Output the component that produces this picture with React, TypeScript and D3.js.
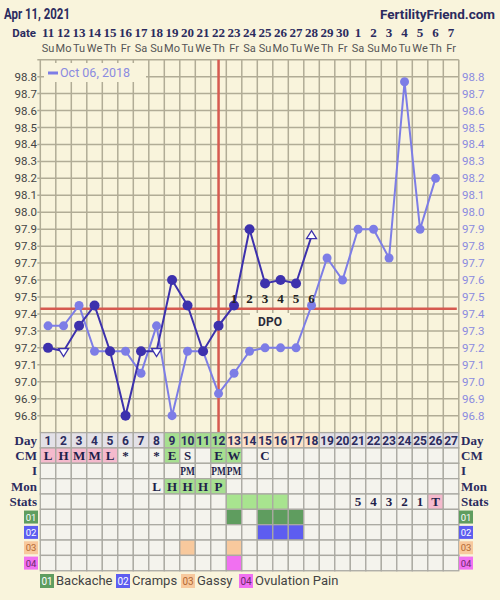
import React from 'react';
import * as d3 from 'd3';

const headerDate = 'Apr 11, 2021';
const siteName = 'FertilityFriend.com';
const dates = ['11','12','13','14','15','16','17','18','19','20','21','22','23','24','25','26','27','28','29','30','1','2','3','4','5','6','7'];
const weekdays = ['Su','Mo','Tu','We','Th','Fr','Sa','Su','Mo','Tu','We','Th','Fr','Sa','Su','Mo','Tu','We','Th','Fr','Sa','Su','Mo','Tu','We','Th','Fr'];
const cycleDays = [1,2,3,4,5,6,7,8,9,10,11,12,13,14,15,16,17,18,19,20,21,22,23,24,25,26,27];

const currentTemps = [97.2, 97.18, 97.33, 97.45, 97.18, 96.8, 97.18, 97.18, 97.6, 97.45, 97.18, 97.33, 97.45, 97.9, 97.58, 97.6, 97.58, 97.86];
const currentMarkers = ['c','down','c','c','c','c','c','down','c','c','c','c','c','c','c','c','c','up'];
const compareTemps = [97.33, 97.33, 97.45, 97.18, 97.18, 97.18, 97.05, 97.33, 96.8, 97.18, 97.18, 96.93, 97.05, 97.18, 97.2, 97.2, 97.2, 97.45, 97.73, 97.6, 97.9, 97.9, 97.73, 98.77, 97.9, 98.2];
const compareLabel = 'Oct 06, 2018';
const coverline = 97.43;
const ovulationDay = 12;
const dpoLabels = ['1','2','3','4','5','6'];
const yTicks = [96.8, 96.9, 97.0, 97.1, 97.2, 97.3, 97.4, 97.5, 97.6, 97.7, 97.8, 97.9, 98.0, 98.1, 98.2, 98.3, 98.4, 98.5, 98.6, 98.7, 98.8];

const dayPhase = ['g','g','g','g','g','g','g','g','f','f','f','f','l','l','l','l','l','l','g','g','g','g','g','g','g','g','g'];
const cmText = ['L','H','M','M','L','*','','*','E','S','','E','W','','C','','','','','','','','','','','',''];
const cmFill = ['p','p','p','p','p','','','','f','','','f','f','','','','','','','','','','','','','',''];
const iText = ['','','','','','','','','','PM','','PM','PM','','','','','','','','','','','','','',''];
const monText = ['','','','','','','','L','H','H','H','P','','','','','','','','','','','','','','',''];
const monFill = ['','','','','','','','','f','f','f','f','','','','','','','','','','','','','','',''];
const statsText = ['','','','','','','','','','','','','','','','','','','','','5','4','3','2','1','T',''];
const statsFill = ['','','','','','','','','','','','','s','s','s','s','','','','','','','','','','p',''];
const symptomNames = ['Backache','Cramps','Gassy','Ovulation Pain'];
const symptomCodes = ['01','02','03','04'];
const symptomDays = [[13,15,16,17],[15,16,17],[10,13],[13]];
const rowLabels = ['Day','CM','I','Mon','Stats'];

const BG = '#f9f4dc';
const GRID = '#b1ac96';
const CUR = '#3d31ad';
const CMP = '#7d7de6';
const RED = '#d65a50';
const NAVY = '#2b2b5e';
const fills: Record<string,string> = { g:'#e3e1e7', f:'#a6df90', l:'#fde2c9', p:'#f5bacd', s:'#a8e48f', '':'#f4f3ed' };
const symFill = ['#5f9d5f','#5d5df0','#f8c99d','#f170f1'];
const symText = ['#ffffff','#ffffff','#b46a34','#6b2a6b'];

const SANS = 'Roboto, sans-serif';
const SLAB = "'Liberation Serif', serif";

export default function App() {
  const x = d3.scaleBand<number>().domain(cycleDays).range([40.3, 458.8]).padding(0);
  const bw = x.bandwidth();
  const cx = (d: number) => (x(d) as number) + bw / 2;
  const y = d3.scaleLinear().domain([96.7, 98.9]).range([432.6, 59.7]);
  const plotTop = y(98.9), plotBottom = y(96.7);
  const rowTop = plotBottom;
  const rowH = 15.35;
  const left = x(1) as number, right = (x(27) as number) + bw;

  const curPts = currentTemps.map((t, i) => [cx(cycleDays[i]), y(t)] as [number, number]);
  const cmpPts = compareTemps.map((t, i) => [cx(cycleDays[i]), y(t)] as [number, number]);
  const line = d3.line();

  const tri = (px: number, py: number, dir: string) => {
    const w = 5, h = 8;
    if (dir === 'down') return `M${px - w},${py - h / 3}L${px + w},${py - h / 3}L${px},${py + 2 * h / 3}Z`;
    return `M${px - w},${py + h / 3}L${px + w},${py + h / 3}L${px},${py - 2 * h / 3}Z`;
  };

  const rows: { text: string[]; fill: string[] }[] = [
    { text: dates.map((_, i) => String(cycleDays[i])), fill: dayPhase },
    { text: cmText, fill: cmFill },
    { text: iText, fill: cmText.map(() => '') },
    { text: monText, fill: monFill },
    { text: statsText, fill: statsFill },
  ];

  return (
    <svg width={500} height={600} style={{ position: 'absolute', left: 0, top: 0, background: BG }}>
      <rect x={0} y={0} width={500} height={600} fill={BG} />
      <text x={4} y={19} fontFamily={SANS} fontWeight={700} fontSize={14} fill={NAVY} textLength={66} lengthAdjust="spacingAndGlyphs">{headerDate}</text>
      <text x={495} y={19} textAnchor="end" fontFamily={SANS} fontWeight={700} fontSize={13.5} fill={NAVY}>{siteName}</text>
      <text x={36} y={37} textAnchor="end" fontFamily={SANS} fontWeight={700} fontSize={11.5} fill={NAVY}>Date</text>
      {dates.map((d, i) => (
        <text key={'d' + i} x={cx(cycleDays[i])} y={36.5} textAnchor="middle" fontFamily={SLAB} fontWeight={700} fontSize={13} fill={NAVY}>{d}</text>
      ))}
      {weekdays.map((d, i) => (
        <text key={'w' + i} x={cx(cycleDays[i])} y={51.5} textAnchor="middle" fontFamily={SANS} fontSize={11} fill="#555">{d}</text>
      ))}

      {/* grid */}
      {cycleDays.concat([28]).map((d, i) => {
        const gx = i < 27 ? (x(d) as number) : right;
        return <line key={'vg' + i} x1={gx} x2={gx} y1={plotTop} y2={plotBottom} stroke={GRID} strokeWidth={1.5} />;
      })}
      {yTicks.concat([98.9]).map((t, i) => (
        <line key={'hg' + i} x1={left - 3} x2={right} y1={y(t)} y2={y(t)} stroke={GRID} strokeWidth={1.5} />
      ))}
      {yTicks.map((t, i) => (
        <text key={'yl' + i} x={37} y={y(t) + 4} textAnchor="end" fontFamily={SANS} fontSize={11.5} fill="#444">{t.toFixed(1)}</text>
      ))}
      {yTicks.map((t, i) => (
        <text key={'yr' + i} x={462} y={y(t) + 4} fontFamily={SANS} fontSize={11.5} fill="#8b8be0">{t.toFixed(1)}</text>
      ))}

      {/* legend box */}
      <rect x={44} y={63} width={102} height={19} fill={BG} />
      <line x1={48} x2={58} y1={73} y2={73} stroke={CMP} strokeWidth={3} />
      <text x={60} y={76.5} fontFamily={SANS} fontSize={12.5} fill="#8b8be0">{compareLabel}</text>

      {/* coverline and ovulation */}
      <line x1={left} x2={right - 2} y1={y(coverline)} y2={y(coverline)} stroke={RED} strokeWidth={2.5} />
      <line x1={cx(ovulationDay)} x2={cx(ovulationDay)} y1={plotTop} y2={plotBottom} stroke={RED} strokeWidth={2.5} />

      {/* DPO box */}
      <rect x={250} y={313} width={40} height={16} fill={BG} />
      <text x={270} y={325.5} textAnchor="middle" fontFamily={SANS} fontWeight={700} fontSize={12} fill="#2a2a3a">DPO</text>

      {/* comparison series */}
      <path d={line(cmpPts) || ''} fill="none" stroke={CMP} strokeWidth={2} />
      {cmpPts.map((p, i) => <circle key={'cp' + i} cx={p[0]} cy={p[1]} r={4.5} fill={CMP} />)}

      {/* current series */}
      <path d={line(curPts) || ''} fill="none" stroke={CUR} strokeWidth={2} />
      {curPts.map((p, i) => currentMarkers[i] === 'c'
        ? <circle key={'cc' + i} cx={p[0]} cy={p[1]} r={5} fill={CUR} />
        : <path key={'ct' + i} d={tri(p[0], p[1], currentMarkers[i])} fill="#fff" stroke={CUR} strokeWidth={1.3} />)}

      {/* DPO labels on top */}
      {dpoLabels.map((l, i) => (
        <text key={'dpo' + i} x={cx(ovulationDay + 1 + i)} y={303} textAnchor="middle" fontFamily={SLAB} fontWeight={700} fontSize={13} fill="#222">{l}</text>
      ))}

      {/* table */}
      {rows.map((r, ri) => cycleDays.map((d, ci) => (
        <rect key={`r${ri}-${ci}`} x={x(d)} y={rowTop + ri * rowH} width={bw} height={rowH} fill={fills[r.fill[ci]] || fills['']} stroke="#aaa9a2" strokeWidth={1.3} />
      )))}
      {symptomDays.map((days, si) => cycleDays.map((d, ci) => (
        <rect key={`s${si}-${ci}`} x={x(d)} y={rowTop + (5 + si) * rowH} width={bw} height={rowH} fill={days.includes(d) ? symFill[si] : fills['']} stroke="#aaa9a2" strokeWidth={1.3} />
      )))}
      {rows.map((r, ri) => r.text.map((t, ci) => {
        if (!t) return null;
        const tx = cx(cycleDays[ci]);
        const ty = rowTop + ri * rowH + rowH / 2 + 4.5;
        if (ri === 2 && t.length > 1) {
          return (
            <g key={`t${ri}-${ci}`} transform={`translate(${tx},${ty}) scale(0.72,1)`}>
              <text x={0} y={0} textAnchor="middle" fontFamily={SLAB} fontWeight={700} fontSize={13} fill="#1f1f4a">{t}</text>
            </g>
          );
        }
        return (
          <text key={`t${ri}-${ci}`} x={tx} y={ty} textAnchor="middle"
            fontFamily={ri === 0 ? SANS : SLAB} fontWeight={700} fontSize={ri === 0 ? 12 : 13} fill={ri === 0 ? NAVY : '#1f1f4a'}>{t}</text>
        );
      }))}
      {rowLabels.map((l, ri) => (
        <g key={'rl' + ri}>
          <text x={37} y={rowTop + ri * rowH + rowH / 2 + 4.5} textAnchor="end" fontFamily={SLAB} fontWeight={700} fontSize={13} fill={NAVY}>{l}</text>
          <text x={461} y={rowTop + ri * rowH + rowH / 2 + 4.5} fontFamily={SLAB} fontWeight={700} fontSize={13} fill={NAVY}>{l}</text>
        </g>
      ))}
      {symptomCodes.map((c, si) => {
        const yy = rowTop + (5 + si) * rowH + 1.2;
        return (
          <g key={'sl' + si}>
            <rect x={24} y={yy} width={14} height={13} fill={symFill[si]} />
            <text x={31} y={yy + 10} textAnchor="middle" fontFamily={SANS} fontSize={9.5} fill={symText[si]}>{c}</text>
            <rect x={459} y={yy} width={14} height={13} fill={symFill[si]} />
            <text x={466} y={yy + 10} textAnchor="middle" fontFamily={SANS} fontSize={9.5} fill={symText[si]}>{c}</text>
          </g>
        );
      })}

      {/* bottom legend */}
      {symptomNames.map((n, si) => {
        const lx = [40, 116, 181, 239][si];
        return (
          <g key={'lg' + si}>
            <rect x={lx} y={574} width={14} height={14} fill={symFill[si]} />
            <text x={lx + 7} y={585} textAnchor="middle" fontFamily={SANS} fontSize={10} fill={symText[si]}>{symptomCodes[si]}</text>
            <text x={lx + 16} y={585} fontFamily={SANS} fontSize={13} fill="#444">{n}</text>
          </g>
        );
      })}
    </svg>
  );
}
